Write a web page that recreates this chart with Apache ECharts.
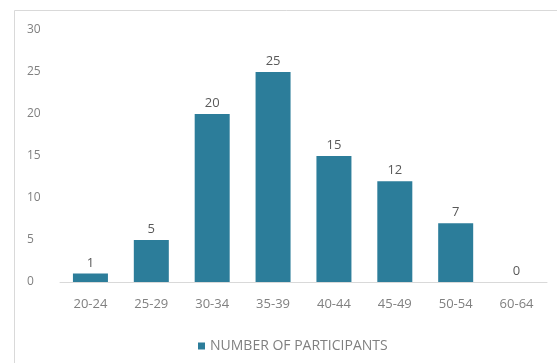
<!DOCTYPE html>
<html><head><meta charset="utf-8">
<script src="https://cdn.jsdelivr.net/npm/echarts@6/dist/echarts.min.js"></script>
<style>html,body{margin:0;padding:0;background:#fff}#c{width:557px;height:363px}</style>
</head><body><div id="c"></div>
<script>
var categories = ['20-24','25-29','30-34','35-39','40-44','45-49','50-54','60-64'];
var participants = [1,5,20,25,15,12,7,0];
var seriesName = 'NUMBER OF PARTICIPANTS';
var yTicks = {min:0, max:30, interval:5};

var chart = echarts.init(document.getElementById('c'), null, {renderer:'canvas'});
var font = '"Open Sans", "Noto Sans", sans-serif';
chart.setOption({
  animation:false,
  backgroundColor:'#fff',
  graphic:[{type:'rect', shape:{x:14.5,y:10.5,width:560,height:370}, style:{fill:'none', stroke:'#d9d9d9', lineWidth:1}, silent:true}],
  grid:{left:60, right:10, top:30, bottom:81},
  legend:{data:[seriesName], left:193, top:334, itemWidth:7, itemHeight:7, itemGap:6,
    icon:'rect', textStyle:{color:'#808080', fontSize:14, fontFamily:font}},
  xAxis:{type:'category', data:categories,
    axisLine:{lineStyle:{color:'#d9d9d9'}}, axisTick:{show:false},
    axisLabel:{color:'#808080', fontSize:13, fontFamily:font, margin:16}},
  yAxis:{type:'value', min:yTicks.min, max:yTicks.max, interval:yTicks.interval,
    splitLine:{show:false}, axisLine:{show:false}, axisTick:{show:false},
    axisLabel:{color:'#808080', fontSize:12, fontFamily:font, margin:33, align:'left'}},
  series:[{name:seriesName, type:'bar', data:participants, barWidth:35,
    itemStyle:{color:'#2C7D9A'},
    label:{show:true, position:'top', distance:4, color:'#595959', fontSize:13, fontFamily:font}}]
});
</script></body></html>
